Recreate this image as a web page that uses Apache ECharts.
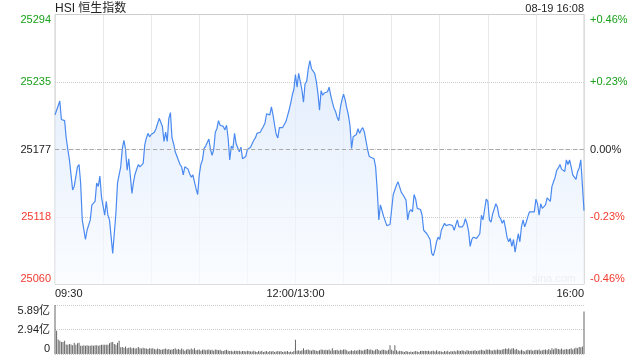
<!DOCTYPE html>
<html>
<head>
<meta charset="utf-8">
<style>
html,body{margin:0;padding:0;background:#fff;}
#chart{width:640px;height:360px;}
</style>
<script src="https://cdn.jsdelivr.net/npm/echarts@6/dist/echarts.min.js"></script>
</head>
<body>
<div id="chart"></div>
<script>
// ---- data ----
const titleText = 'HSI 恒生指数';
const timeText = '08-19 16:08';
const prevClose = 25177;
const yTicks = [25060, 25118, 25177, 25235, 25294];
const pctTicks = ['-0.46%', '-0.23%', '0.00%', '+0.23%', '+0.46%'];
const xLabels = { 0: '09:30', 150: '12:00/13:00', 330: '16:00' };
const volTicks = ['0', '2.94亿', '5.89亿'];
const volMax = 5.89; // 亿

// minutes after 09:30 (lunch break removed: 150 = 12:00/13:00, 330 = 16:00)
const priceMinutes = [
0,1,2,3,4,6,7,8,9,11,12,14,15,16,17,19,20,22,23,25,26,27,28,29,30,31,32,33,34,36,38,39,41,42,43,44,45,46,47,48,49,50,
52,53,55,56,57,58,59,60,62,63,65,66,67,68,69,70,71,72,73,74,75,76,78,79,80,81,83,84,85,86,87,88,89,90,91,92,93,94,95,
96,97,98,99,100,101,102,103,105,106,107,108,109,110,111,112,113,115,116,117,119,120,121,122,124,125,126,128,130,131,
132,133,134,135,136,137,138,139,140,142,143,144,145,146,147,148,149,150,151,152,153,154,155,156,157,158,159,160,161,
162,163,164,165,166,167,168,170,171,172,173,174,175,176,177,178,179,180,181,182,183,184,185,186,187,188,189,190,191,
192,193,195,196,197,199,200,201,202,203,204,205,206,207,208,209,210,211,212,213,214,215,216,217,218,219,220,221,222,
223,224,225,226,228,229,230,231,232,233,234,235,236,237,238,239,240,241,242,243,244,245,246,248,249,250,251,252,254,
255,256,257,258,259,260,261,263,264,265,266,267,268,269,270,271,272,273,275,276,277,278,279,280,281,282,283,284,285,
286,287,288,289,290,291,292,293,294,295,296,297,299,300,301,302,303,304,305,306,307,308,309,310,311,312,313,314,315,
316,317,318,319,320,321,322,323,324,325,326,327,328,329,330
];
const prices = [
25207,25211,25210,25219,25203,25202,25187,25177,25168,25142,25145,25162,25164,25148,25116,25099,25107,25116,25129,25132,25148,25145,25154,25136,25136,25120,25132,25120,25116,25087,25122,25148,25162,25178,25185,25177,25159,25169,25169,25139,25149,25156,
25164,25162,25165,25181,25187,25191,25188,25190,25192,25195,25204,25205,25197,25184,25192,25184,25204,25209,25187,25182,25175,25174,25164,25162,25155,25162,25160,25156,25153,25155,25149,25143,25138,25155,25164,25168,25178,25180,25181,
25186,25177,25172,25177,25192,25195,25202,25198,25197,25194,25198,25187,25168,25180,25178,25191,25182,25175,25179,25169,25171,25177,25178,25179,25185,25187,25191,25192,25197,25200,
25208,25208,25207,25214,25207,25198,25190,25187,25196,25196,25197,25201,25206,25211,25217,25224,25229,25242,25231,25243,25244,25229,25218,25234,25236,25247,25254,25247,25247,
25243,25236,25226,25211,25228,25224,25226,25227,25231,25224,25218,25213,25210,25205,25202,25213,25220,25225,25220,25213,25207,25198,25178,25188,25188,25190,25195,25191,25194,
25196,25192,25177,25171,25170,25169,25162,25142,25116,25129,25128,25119,25118,25111,25111,25112,25111,25138,25139,25146,25149,25149,25140,25138,25138,25133,25116,25123,25125,
25123,25138,25134,25126,25125,25120,25107,25107,25104,25103,25099,25087,25085,25090,25097,25101,25099,25107,25110,25113,25111,25112,25112,25111,25107,25106,25116,25110,25110,
25112,25117,25113,25106,25093,25099,25101,25100,25099,25104,25120,25116,25125,25134,25132,25116,25114,25121,25130,25127,25119,25117,25113,25116,25109,25101,25097,25100,25093,
25099,25088,25096,25104,25097,25110,25116,25110,25114,25119,25123,25122,25123,25134,25130,25120,25130,25126,25126,25129,25135,25135,25132,25145,25149,25153,25159,25161,25164,
25160,25160,25158,25168,25164,25168,25162,25155,25153,25151,25158,25161,25168,25167,25124
];

// per-minute turnover (亿), index = minutes after 09:30
const volumes = [
5.89,2.80,1.75,1.60,1.45,1.45,1.60,1.15,1.10,1.20,1.15,1.05,1.35,
1.10,1.30,1.35,1.00,1.00,1.05,1.00,1.05,1.00,1.00,1.05,1.00,1.05,1.05,1.00,
1.05,1.10,1.10,1.10,1.10,1.10,1.30,1.40,1.45,1.20,1.10,1.35,1.60,
0.80,0.85,0.75,0.90,0.70,0.75,0.80,0.70,0.75,0.65,0.70,0.85,0.70,0.65,0.75,0.70,0.65,0.60,0.70,0.65,
0.70,0.60,0.55,0.65,0.60,0.50,0.55,0.60,0.65,0.55,
0.60,0.50,0.55,0.60,0.70,0.55,0.60,0.50,0.65,0.55,
0.40,0.55,0.60,0.50,0.65,0.55,0.70,0.45,0.50,0.55,
0.40,0.50,0.55,0.45,0.50,0.55,0.45,0.50,0.40,0.55,
0.50,0.45,0.50,0.40,0.35,0.45,0.50,
0.40,0.35,0.40,0.30,0.40,0.40,0.35,0.40,0.30,0.35,
0.35,0.30,0.40,0.35,0.30,0.30,0.40,0.30,0.25,0.35,
0.30,0.40,0.25,0.30,0.35,0.25,0.35,0.30,0.35,0.25,
0.30,0.35,0.30,0.35,0.25,0.30,0.30,0.35,0.25,0.30,
0.25,0.35,
1.70,
0.40,0.45,0.35,0.45,0.70,0.45,0.50,0.55,0.45,0.40,
0.50,0.45,0.40,0.35,0.45,0.55,0.50,0.45,0.50,0.45,
0.55,0.40,0.70,0.45,0.45,0.50,0.40,0.50,0.45,0.55,
0.55,0.45,0.30,0.35,0.45,0.35,0.45,0.40,0.45,0.50,
0.45,0.40,0.50,0.55,0.60,0.50,0.55,0.45,0.40,0.55,
0.60,0.45,0.40,0.50,0.50,0.45,0.40,0.50,1.05,0.50,
0.40,1.05,0.45,0.30,0.40,0.35,0.30,0.25,0.35,0.30,
0.25,0.30,0.25,0.30,0.35,0.30,0.25,0.35,0.40,0.35,
0.40,0.35,0.40,0.30,0.35,0.40,0.30,0.45,0.30,0.35,
0.30,0.25,0.35,0.30,0.40,0.25,0.35,0.30,0.40,0.30,
0.45,0.40,0.35,0.45,0.40,0.30,0.45,0.40,0.35,0.40,
0.40,0.45,0.35,0.40,0.45,0.50,0.45,0.40,0.55,0.50,
0.55,0.45,0.40,0.50,0.45,0.55,0.50,0.45,0.55,0.60,
0.65,0.60,0.70,0.55,0.65,0.70,0.50,0.60,0.45,0.40,
0.50,0.40,0.30,0.45,0.50,0.45,0.50,0.40,0.45,0.50,
0.45,0.55,0.40,0.45,0.50,0.55,0.45,0.60,0.45,0.70,
0.55,0.70,0.65,0.60,0.55,0.65,0.50,0.55,0.60,0.55,
0.60,0.70,0.55,0.65,0.75,0.70,0.85,0.80,0.90,
5.10
];

// ---- chart ----
const FONT = 'Arial, "Liberation Sans", "Noto Sans CJK SC", sans-serif';
const GREEN = '#1aa01a', RED = '#f23a2f', DARK = '#222';
const base = yTicks[0];
const yInterval = (yTicks[4] - yTicks[0]) / 4;
const tickColor = (i) => i < 2 ? RED : (i === 2 ? DARK : GREEN);
const idxOf = (v) => Math.round(v / yInterval);

const chart = echarts.init(document.getElementById('chart'), null, { renderer: 'canvas' });

const priceData = priceMinutes.map((m, i) => [m, prices[i] - base]);
const volData = volumes.map((v, i) => [i, v]);

chart.setOption({
  animation: false,
  textStyle: { fontFamily: FONT },
  title: [
    { text: titleText, left: 55, top: 3, padding: 0,
      textStyle: { fontSize: 12, fontWeight: 'normal', color: '#222', fontFamily: FONT } },
    { text: timeText, right: 56, top: 3.5, padding: 0,
      textStyle: { fontSize: 11, fontWeight: 'normal', color: '#222', fontFamily: FONT } }
  ],
  graphic: [
    { type: 'text', left: 532, top: 273, silent: true,
      style: { text: 'sina.com', fill: '#d2d2d2', font: '11px ' + FONT } }
  ],
  grid: [
    { left: 55, right: 56, top: 14.5, height: 270, show: true, borderColor: '#cfcfcf', borderWidth: 1 },
    { left: 55, right: 56, top: 305, height: 49 }
  ],
  xAxis: [
    { type: 'value', gridIndex: 0, min: 0, max: 330, interval: 30,
      axisLine: { show: false }, axisTick: { show: false },
      splitLine: { show: true, lineStyle: { type: 'dotted', color: '#d4d4d4' } },
      axisLabel: { show: true, margin: 4, fontSize: 11, color: '#222', fontFamily: FONT,
        alignMinLabel: 'left', alignMaxLabel: 'right',
        formatter: (v) => xLabels[v] !== undefined ? xLabels[v] : '' } },
    { type: 'value', gridIndex: 1, min: 0, max: 330, interval: 30,
      axisLine: { show: false }, axisTick: { show: false },
      splitLine: { show: false }, axisLabel: { show: false } }
  ],
  yAxis: [
    { type: 'value', gridIndex: 0, position: 'left', min: 0, max: yTicks[4] - base, interval: yInterval,
      axisLine: { show: false }, axisTick: { show: false },
      splitLine: { show: true, lineStyle: { type: 'dotted', color: '#cccccc' } },
      axisLabel: { margin: 4, fontSize: 11, fontFamily: FONT,
        verticalAlignMinLabel: 'bottom', verticalAlignMaxLabel: 'top',
        formatter: (v) => String(yTicks[idxOf(v)]),
        color: (v) => tickColor(idxOf(v)) } },
    { type: 'value', gridIndex: 0, position: 'right', min: 0, max: yTicks[4] - base, interval: yInterval,
      axisLine: { show: false }, axisTick: { show: false }, splitLine: { show: false },
      axisLabel: { margin: 6, fontSize: 11, fontFamily: FONT,
        verticalAlignMinLabel: 'bottom', verticalAlignMaxLabel: 'top',
        formatter: (v) => pctTicks[idxOf(v)],
        color: (v) => tickColor(idxOf(v)) } },
    { type: 'value', gridIndex: 1, min: 0, max: volMax, interval: volMax / 2,
      axisLine: { show: false }, axisTick: { show: false },
      splitLine: { show: true, lineStyle: { type: 'dotted', color: '#cccccc' } },
      axisLabel: { margin: 5, fontSize: 11, color: '#222', fontFamily: FONT,
        verticalAlignMinLabel: 'bottom', verticalAlignMaxLabel: 'top',
        formatter: (v) => volTicks[Math.round(v / (volMax / 2))] } }
  ],
  series: [
    { type: 'line', xAxisIndex: 0, yAxisIndex: 0, data: priceData,
      showSymbol: false, smooth: false, silent: true,
      lineStyle: { color: '#4a8af0', width: 1.2 },
      areaStyle: { color: new echarts.graphic.LinearGradient(0, 0, 0, 1, [
        { offset: 0, color: '#d6e5fa' }, { offset: 1, color: '#f8fbff' }]) },
      markLine: { silent: true, symbol: ['none', 'none'], label: { show: false },
        lineStyle: { type: [4, 3], color: '#aaaaaa', width: 1 },
        data: [{ yAxis: prevClose - base }] } },
    { type: 'bar', xAxisIndex: 1, yAxisIndex: 2, data: volData, barWidth: 1, clip: false,
      silent: true, itemStyle: { color: '#666666' } }
  ]
});
</script>
</body>
</html>
